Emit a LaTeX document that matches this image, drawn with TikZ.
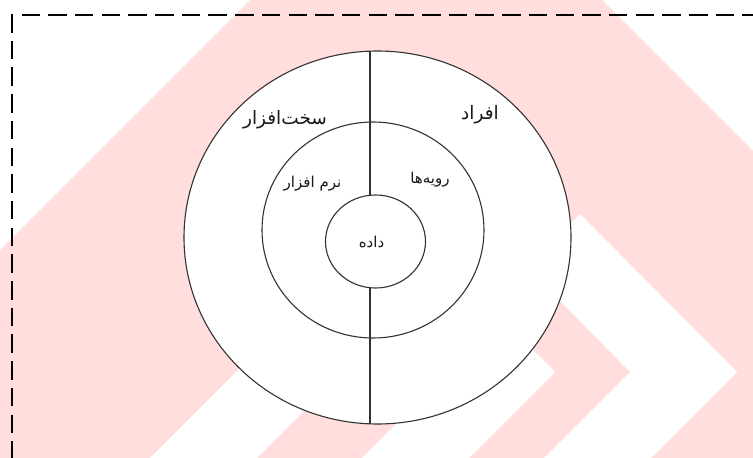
\documentclass[tikz,border=0pt]{standalone}
\usepackage{fontspec}
\newfontfamily\arabicfont[Script=Arabic]{DejaVu Sans}
\TeXXeTstate=1
\usetikzlibrary{shapes.geometric}
\definecolor{wmpink}{RGB}{255,222,221}
\definecolor{ringgray}{RGB}{50,50,50}
\definecolor{labcol}{RGB}{25,25,25}
\begin{document}
\begin{tikzpicture}[x=1pt,y=-1pt,
  ring/.style={draw=ringgray, line width=1.1pt, fill=white, ellipse, inner sep=0pt},
  divider/.style={draw=ringgray, line width=1.1pt},
  border/.style={draw=black, line width=1.8pt, dash pattern=on 18.5pt off 8.2pt},
  labbig/.style={inner sep=0pt, text=labcol, font=\arabicfont\fontsize{18.5}{20}\selectfont},
  labsmall/.style={inner sep=0pt, text=labcol, font=\arabicfont\fontsize{15}{17}\selectfont}]
\useasboundingbox (0,0) rectangle (753,458);
\clip (0,0) rectangle (753,458);
% watermark
\fill[wmpink] (250,0) -- (602,0) -- (760,158) -- (760,470) -- (-10,470) -- (-10,260) -- cycle;
\fill[white] (580,214) -- (737,372) -- (651,458) -- (544,458) -- (630,372) -- (527,267) -- cycle;
\fill[white] (391.5,208.5) -- (555,372) -- (469,458) -- (362,458) -- (448,372) -- (338,262) -- cycle;
\fill[white] (150,458) -- (257,458) -- (345,370) -- (290,318) -- cycle;
% frame
\draw[border] (12,14) -- (12,470);
\draw[border] (21.5,15) -- (770,15);
% rings
\node[ring, minimum width=387pt, minimum height=373pt] (outer) at (377.5,237.5) {};
\node[ring, minimum width=222pt, minimum height=216pt] (middle) at (373,230) {};
\node[ring, minimum width=100pt, minimum height=93pt] (inner) at (375.5,241.5) {};
\coordinate (otop) at (370,51.1);
\coordinate (itop) at (370,195.3);
\coordinate (ibot) at (370,287.7);
\coordinate (obot) at (370,423.9);
\draw[divider] (otop) -- (itop);
\draw[divider] (ibot) -- (obot);
% labels
\node[labbig] (hw) at (285,120) {\beginR سخت‌افزار\endR};
\node[labbig] (people) at (480,115) {\beginR افراد\endR};
\node[labsmall] (sw) at (312.5,184) {\beginR نرم افزار\endR};
\node[labsmall] (proc) at (430,180) {\beginR رویه‌ها\endR};
\node[labsmall] (data) at (371.5,242) {\beginR داده\endR};
\end{tikzpicture}
\end{document}
